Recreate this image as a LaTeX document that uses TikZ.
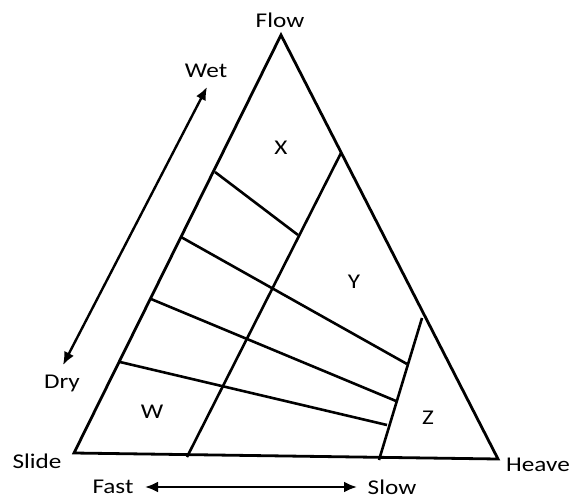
\documentclass[tikz,border=0pt]{standalone}
\usepackage{fontspec}
\setmainfont{Carlito}
\usetikzlibrary{arrows.meta}
\begin{document}
\begin{tikzpicture}[x=1pt,y=-1pt,
  edge/.style={line width=2.8pt,line join=miter},
  part/.style={line width=2.6pt},
  lbl/.style={font=\fontsize{21}{21}\selectfont,inner sep=0pt,xscale=1.2},
  dbl/.style={line width=2.4pt,{Latex[length=13pt,width=11pt]}-{Latex[length=13pt,width=11pt]}}]
\useasboundingbox (0,0) rectangle (578,498);
% vertices
\coordinate (A) at (281,35);
\coordinate (B) at (74,453);
\coordinate (C) at (498,459);
\draw[edge] (A) -- (B) -- (C) -- cycle;
% boundary points
\coordinate (f1) at (341,153);
\coordinate (f2) at (187,457);
\coordinate (z1) at (422,318);
\coordinate (z2) at (379,460);
\coordinate (l1a) at (215,172);
\coordinate (l1b) at (298,235);
\coordinate (l2a) at (181,237);
\coordinate (l2b) at (407,364);
\coordinate (l3a) at (151,299);
\coordinate (l3b) at (396,401);
\coordinate (l4a) at (120,362);
\coordinate (l4b) at (387,425);
\draw[part] (f1) -- (f2);
\draw[part] (z1) -- (z2);
\draw[part] (l1a) -- (l1b);
\draw[part] (l2a) -- (l2b);
\draw[part] (l3a) -- (l3b);
\draw[part] (l4a) -- (l4b);
% labels
\node[lbl] (flow) at (280,20) {Flow};
\node[lbl] (slide) at (37,461) {Slide};
\node[lbl] (heave) at (538,465) {Heave};
\node[lbl] (wet) at (206,71) {Wet};
\node[lbl] (dry) at (62,383) {Dry};
\node[lbl] (fast) at (113,487) {Fast};
\node[lbl] (slow) at (392,487) {Slow};
\node[lbl] (x) at (281,148) {X};
\node[lbl] (y) at (354,282) {Y};
\node[lbl] (z) at (428,418) {Z};
\node[lbl] (w) at (152,412) {W};
% arrows
\coordinate (wt) at (207,87);
\coordinate (dt) at (63,365);
\draw[dbl] (dt) -- (wt);
\coordinate (ft) at (145,487);
\coordinate (st) at (357,487);
\draw[dbl] (ft) -- (st);
\end{tikzpicture}
\end{document}
